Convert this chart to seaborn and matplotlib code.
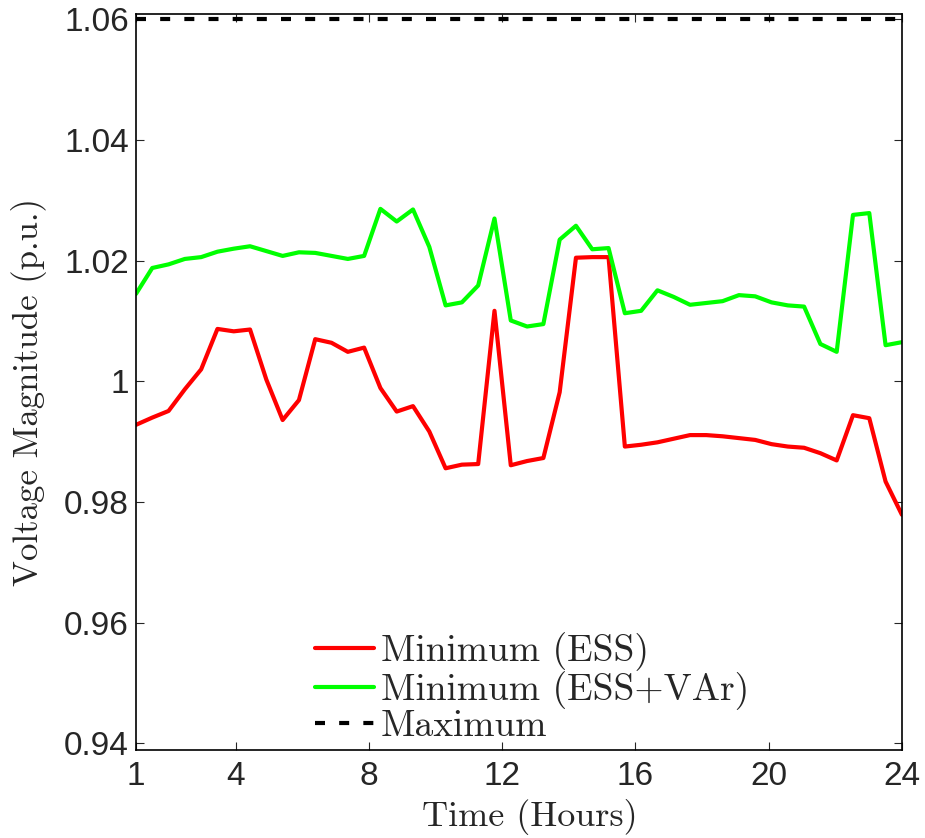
import numpy as np
import pandas as pd
import matplotlib
matplotlib.use("Agg")
import matplotlib.pyplot as plt
import seaborn as sns

# ---- data ----
hours = np.linspace(1, 24, 48)
min_ess = [0.9928, 0.9940, 0.9951, 0.9987, 1.0020, 1.0087, 1.0083, 1.0086,
           1.0003, 0.9936, 0.9969, 1.0070, 1.0064, 1.0049, 1.0056, 0.9989,
           0.9950, 0.9959, 0.9917, 0.9856, 0.9862, 0.9863, 1.0117, 0.9861,
           0.9868, 0.9873, 0.9982, 1.0205, 1.0206, 1.0206, 0.9892, 0.9895,
           0.9899, 0.9905, 0.9911, 0.9911, 0.9909, 0.9906, 0.9903, 0.9896,
           0.9892, 0.9890, 0.9881, 0.9869, 0.9944, 0.9939, 0.9834, 0.9779]
min_ess_var = [1.0145, 1.0188, 1.0194, 1.0203, 1.0206, 1.0215, 1.0220, 1.0224,
               1.0216, 1.0208, 1.0214, 1.0213, 1.0208, 1.0203, 1.0208, 1.0286,
               1.0265, 1.0285, 1.0223, 1.0126, 1.0131, 1.0159, 1.0270, 1.0101,
               1.0091, 1.0095, 1.0235, 1.0258, 1.0219, 1.0221, 1.0113, 1.0117,
               1.0151, 1.0140, 1.0127, 1.0130, 1.0133, 1.0143, 1.0141, 1.0131,
               1.0126, 1.0124, 1.0062, 1.0049, 1.0276, 1.0279, 1.0060, 1.0065]
max_hours = [1, 24]
max_limit = [1.06, 1.06]

labels = ['Minimum (ESS)', 'Minimum (ESS+VAr)', 'Maximum']
xticks = [1, 4, 8, 12, 16, 20, 24]
yticks = [0.94, 0.96, 0.98, 1.00, 1.02, 1.04, 1.06]
yticklabels = ['0.94', '0.96', '0.98', '1', '1.02', '1.04', '1.06']

sns.set_style("white")
plt.rcParams['font.family'] = ['Liberation Sans', 'DejaVu Sans']
SERIF = ['cmr10', 'DejaVu Serif']

fig = plt.figure(figsize=(9.25, 8.38), dpi=100)
ax = fig.add_axes([0.147, 0.105, 0.828, 0.8783])

sns.lineplot(x=hours, y=min_ess, ax=ax, color='#ff0000', lw=3, label=labels[0])
sns.lineplot(x=hours, y=min_ess_var, ax=ax, color='#00ff00', lw=3, label=labels[1])
sns.lineplot(x=max_hours, y=max_limit, ax=ax, color='black', lw=3,
             linestyle=(0, (2.4, 3.4)), label=labels[2])

ax.set_xlim(1, 24)
ax.set_ylim(0.9389, 1.0609)
ax.set_xticks(xticks)
ax.set_xticklabels([str(t) for t in xticks])
ax.set_yticks(yticks)
ax.set_yticklabels(yticklabels)
ax.tick_params(direction='in', length=6, width=0.8, labelsize=24,
               top=True, right=True, bottom=True, left=True)
ax.tick_params(axis='x', pad=8)
ax.tick_params(axis='y', pad=5)
for s in ax.spines.values():
    s.set_linewidth(1.2)
    s.set_color('black')

ax.set_xlabel('Time (Hours)', fontsize=26, family=SERIF)
ax.set_ylabel('Voltage Magnitude (p.u.)', fontsize=25, family=SERIF)
ax.xaxis.set_label_coords(0.514, -0.067)
ax.yaxis.set_label_coords(-0.116, 0.487)

leg = ax.legend(loc='lower left', bbox_to_anchor=(0.2, -0.026), frameon=False,
                prop={'family': SERIF, 'size': 27}, handlelength=1.55,
                handletextpad=0.2, labelspacing=0.0, borderpad=0.2)

fig.savefig('out.png', dpi=100)
